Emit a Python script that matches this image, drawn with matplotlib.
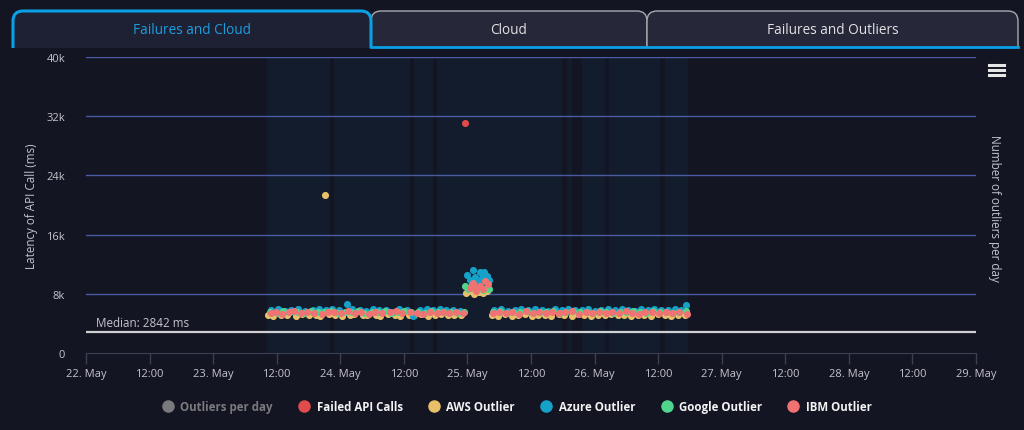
import matplotlib
matplotlib.use('Agg')
import matplotlib.pyplot as plt
import matplotlib.dates as mdates
import matplotlib.font_manager as fm
from matplotlib.lines import Line2D
from matplotlib.path import Path
import matplotlib.patches as mpatches
import pandas as pd

W, H = 1024, 431
BG = '#131522'
BAND = '#121c2c'
GRID = '#4b5ca4'
TXT = '#c4c4cc'

base = pd.Timestamp('2024-05-22 00:00')

# tabs
tab_names = ['Failures and Cloud', 'Cloud', 'Failures and Outliers']

# cloud bands (hours since 22 May 00:00)
band_start = [34.2, 46.8, 61.9, 66.3, 90.8, 93.6, 98.7, 109.3]
band_end = [46.1, 61.2, 65.5, 89.9, 91.7, 98.0, 108.4, 113.7]

# series: hours since 22 May 00:00, latency in ms
failed_t = [71.55]
failed_v = [31100]

aws_t = [34.4, 35.3, 36.9, 38.0, 39.6, 40.8, 42.1, 43.5, 44.2, 45.9, 47.0, 48.3, 49.8, 50.6, 52.2,
         53.1, 54.7, 55.5, 57.0, 58.4, 59.3, 60.9, 62.0, 63.2, 64.6, 65.8, 67.1, 68.3, 69.5, 70.8,
         76.6, 77.8, 79.0, 80.4, 81.5, 82.9, 84.1, 85.3, 86.6, 87.8, 89.2, 90.3, 91.7, 92.9, 94.0,
         95.4, 96.7, 97.9, 99.1, 100.4, 101.6, 102.9, 104.2, 105.3, 106.7, 107.9, 109.2, 110.4, 111.7, 113.0,
         71.8, 72.6, 73.3, 74.1, 74.9, 75.6, 45.1]
aws_v = [5150, 5050, 5200, 5100, 4980, 5250, 5100, 5180, 5020, 5230, 5100, 4950, 5160, 5280, 5080,
         5200, 5120, 5010, 5240, 5150, 5060, 5190, 5110, 5280, 5020, 5140, 5210, 5070, 5180, 5090,
         5120, 5060, 5220, 4990, 5150, 5230, 5040, 5170, 5100, 4960, 5210, 5130, 5050, 5240, 5160,
         5020, 5190, 5110, 5250, 5070, 5140, 5000, 5200, 5120, 5060, 5230, 5150, 5030, 5180, 5100,
         8150, 8400, 7950, 8250, 8050, 8350, 21350]

azure_t = [34.9, 36.2, 37.5, 38.7, 40.1, 41.4, 42.8, 44.0, 45.3, 46.5, 47.8, 49.3, 50.3, 51.7, 52.8,
           54.2, 55.4, 56.7, 58.0, 59.1, 60.5, 61.8, 63.0, 64.3, 65.5, 66.9, 68.0, 69.3, 70.6,
           77.1, 78.4, 79.6, 80.9, 82.2, 83.5, 84.7, 86.0, 87.3, 88.5, 89.8, 91.0, 92.3, 93.6, 94.8,
           96.1, 97.3, 98.6, 99.8, 101.1, 102.3, 103.6, 104.8, 106.1, 107.3, 108.6, 109.8, 111.1, 112.4, 113.3,
           72.0, 72.5, 73.0, 73.4, 73.9, 74.3, 74.8, 75.2, 75.7, 76.0, 72.9, 74.6]
azure_v = [5750, 5900, 5650, 5800, 5950, 5700, 5850, 6000, 5750, 5900, 5800, 6600, 5900, 5850, 5650,
           5950, 5800, 5750, 5600, 5900, 5850, 5000, 5800, 5950, 5750, 5900, 5800, 5850, 5700,
           5850, 5950, 5700, 5800, 5900, 5750, 5950, 5850, 5700, 5900, 5800, 6000, 5750, 5850, 5950,
           5700, 5800, 5900, 5750, 5950, 5850, 5700, 5900, 5800, 5950, 5750, 5850, 5900, 5800, 6450,
           10600, 9900, 11200, 10300, 9700, 10900, 10100, 11000, 10400, 9800, 9500, 9600]

google_t = [34.7, 36.0, 37.2, 38.5, 39.9, 41.1, 42.5, 43.7, 45.0, 46.2, 47.5, 48.8, 50.0, 51.3, 52.5,
            53.9, 55.1, 56.4, 57.6, 58.9, 60.1, 61.4, 62.6, 63.9, 65.1, 66.4, 67.6, 68.9, 70.2, 71.3,
            76.9, 78.1, 79.4, 80.6, 81.9, 83.2, 84.4, 85.7, 86.9, 88.2, 89.5, 90.7, 92.0, 93.2, 94.5,
            95.7, 97.0, 98.2, 99.5, 100.8, 102.0, 103.3, 104.5, 105.8, 107.0, 108.3, 109.5, 110.8, 112.0, 113.2,
            71.6, 72.2, 72.8, 73.5, 74.2, 74.9, 75.5, 76.1]
google_v = [5550, 5400, 5650, 5500, 5600, 5450, 5700, 5550, 5500, 5650, 5400, 5600, 5550, 5700, 5450,
            5600, 5500, 5650, 5400, 5550, 5700, 5500, 5600, 5450, 5650, 5500, 5600, 5550, 5450, 5600,
            5500, 5650, 5450, 5600, 5550, 5700, 5400, 5600, 5500, 5650, 5450, 5550, 5700, 5500, 5600,
            5400, 5650, 5550, 5450, 5600, 5500, 5700, 5550, 5450, 5650, 5500, 5600, 5400, 5550, 5650,
            9000, 8700, 9200, 8600, 8900, 8500, 8800, 8650]

ibm_t = [35.0, 35.8, 37.0, 38.3, 39.3, 40.5, 41.8, 43.1, 44.5, 45.6, 46.9, 48.1, 49.5, 50.8, 51.9,
         53.4, 54.5, 55.8, 57.3, 58.6, 59.7, 61.1, 62.4, 63.6, 64.9, 66.2, 67.4, 68.6, 69.9, 71.1,
         76.8, 78.0, 79.2, 80.5, 81.7, 83.0, 84.3, 85.5, 86.8, 88.0, 89.3, 90.5, 91.8, 93.1, 94.3,
         95.6, 96.8, 98.1, 99.3, 100.6, 101.9, 103.1, 104.4, 105.6, 106.9, 108.1, 109.4, 110.6, 111.9, 113.5,
         72.4, 73.1, 73.7, 74.4, 75.0, 75.8, 73.9, 75.3]
ibm_v = [5400, 5600, 5300, 5500, 5650, 5350, 5550, 5450, 5300, 5600, 5500, 5350, 5650, 5450, 5550,
         5300, 5600, 5400, 5500, 5650, 5350, 5550, 5450, 5300, 5600, 5400, 5550, 5350, 5500, 5450,
         5450, 5600, 5350, 5500, 5300, 5650, 5450, 5550, 5350, 5600, 5400, 5500, 5650, 5300, 5550,
         5450, 5600, 5350, 5500, 5400, 5650, 5450, 5300, 5550, 5600, 5400, 5500, 5350, 5600, 5250,
         8800, 9500, 8400, 9100, 8600, 9300, 8800, 9700]

median_ms = 2842
y_ticks = [0, 8000, 16000, 24000, 32000, 40000]
y_labels = ['0', '8k', '16k', '24k', '32k', '40k']

legend_labels = ['Outliers per day', 'Failed API Calls', 'AWS Outlier', 'Azure Outlier', 'Google Outlier', 'IBM Outlier']
legend_colors = ['#7a7a7e', '#e04b4b', '#e8c06a', '#16a2c8', '#52d68e', '#f07272']

# fonts
avail = {f.name for f in fm.fontManager.ttflist}
main_font = ['Open Sans', 'DejaVu Sans'] if 'Open Sans' in avail else ['DejaVu Sans']
plt.rcParams['font.family'] = main_font


def px(x, y):
    return x / W, 1 - y / H


def to_dt(hours):
    return base + pd.to_timedelta(hours, unit='h')


fig = plt.figure(figsize=(W / 100, H / 100), dpi=100)
fig.patch.set_facecolor(BG)


def tab_path(x0, x1, y0, y1, r=10):
    # top-rounded tab, pixel coords, y down
    pts = [px(x0, y1), px(x0, y0 + r), px(x0, y0), px(x0 + r, y0),
           px(x1 - r, y0), px(x1, y0), px(x1, y0 + r), px(x1, y1)]
    codes = [Path.MOVETO, Path.LINETO, Path.CURVE3, Path.CURVE3,
             Path.LINETO, Path.CURVE3, Path.CURVE3, Path.LINETO]
    return Path(pts, codes)


# inactive tabs
for (x0, x1), name in zip([(371, 647), (647, 1018)], tab_names[1:]):
    p = mpatches.PathPatch(tab_path(x0, x1, 12, 48), facecolor='#262839', edgecolor='#a8a8b0',
                           lw=1, transform=fig.transFigure)
    fig.patches.append(p)
    fig.text(*px((x0 + x1) / 2, 30), name, color='#e2e2e6', fontsize=9.8, ha='center', va='center')
fig.add_artist(Line2D([px(371, 0)[0], px(1018, 0)[0]], [px(0, 48)[1]] * 2, color='#0aa0e6', lw=2,
                      transform=fig.transFigure))
# active tab
p = mpatches.PathPatch(tab_path(13, 371, 12, 49), facecolor='#1e2034', edgecolor='#0aa0e6',
                       lw=2.2, transform=fig.transFigure)
fig.patches.append(p)
fig.text(*px(192, 30), tab_names[0], color='#1a9fe0', fontsize=9.8, ha='center', va='center')

# hamburger menu
for yy in [66, 71, 76]:
    fig.add_artist(Line2D([px(989, 0)[0], px(1004, 0)[0]], [px(0, yy)[1]] * 2, color='#e6e6e6',
                          lw=2.2, transform=fig.transFigure))

l, b = px(86, 354)
r, t = px(976, 58)
ax = fig.add_axes([l, b, r - l, t - b])
ax.set_facecolor(BG)

for s, e in zip(band_start, band_end):
    ax.axvspan(to_dt(s), to_dt(e), color=BAND, lw=0, zorder=0)

for yv in y_ticks[1:]:
    ax.axhline(yv, color=GRID, lw=1, zorder=1)

ax.axhline(median_ms, color='#cfcfd4', lw=1.6, zorder=2)
ax.text(to_dt(1.9), median_ms + 350, f'Median: {median_ms} ms', color=TXT, fontsize=8.4,
        va='bottom', ha='left', zorder=3)

series = [(failed_t, failed_v), (aws_t, aws_v), (azure_t, azure_v), (google_t, google_v), (ibm_t, ibm_v)]
for i, (tt, vv) in enumerate(series):
    ax.scatter(to_dt(tt), vv, s=26, color=legend_colors[i + 1], lw=0, zorder=4 + i)

ax.set_xlim(to_dt(0), to_dt(168))
ax.set_ylim(0, 40000)
ax.set_yticks(y_ticks)
ax.set_yticklabels(y_labels)
ax.xaxis.set_major_locator(mdates.HourLocator(byhour=[0, 12]))
ax.xaxis.set_major_formatter(plt.FuncFormatter(
    lambda v, pos: mdates.num2date(v).strftime('%d. %b') if mdates.num2date(v).hour == 0
    else mdates.num2date(v).strftime('%H:%M')))

for sp in ['top', 'right', 'left']:
    ax.spines[sp].set_visible(False)
ax.spines['bottom'].set_color('#3c3f52')
ax.tick_params(axis='y', length=0, pad=15, labelsize=8, labelcolor=TXT)
ax.tick_params(axis='x', length=8, width=1, color='#3c3f52', pad=3, labelsize=8, labelcolor=TXT)

fig.text(*px(32, 206), 'Latency of API Call (ms)', rotation=90, color=TXT, fontsize=8.4,
         ha='center', va='center')
fig.text(*px(995, 208), 'Number of outliers per day', rotation=270, color=TXT, fontsize=8.4,
         ha='center', va='center')

handles = [Line2D([], [], marker='o', ls='', markersize=8, color=c) for c in legend_colors]
leg = fig.legend(handles, legend_labels, loc='center', bbox_to_anchor=px(514, 408), ncol=6,
                 frameon=False, handletextpad=0.1, columnspacing=1.7,
                 prop={'weight': 'bold', 'size': 8.3})
for txt, c in zip(leg.get_texts(), ['#7a7a7e'] + ['#f2f2f2'] * 5):
    txt.set_color(c)

plt.savefig('out.png', dpi=100, facecolor=BG)
